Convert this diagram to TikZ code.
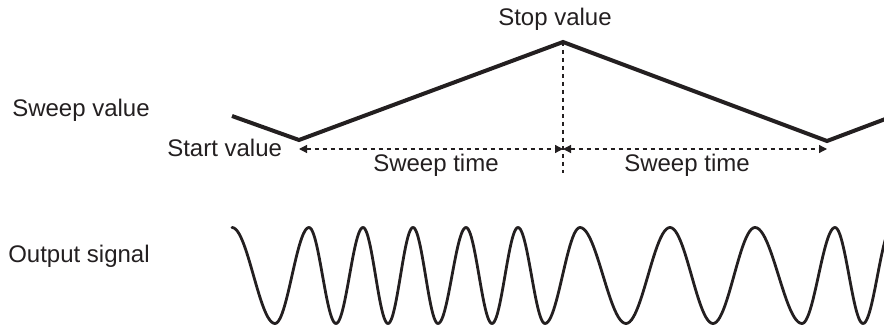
\documentclass[tikz,border=0pt]{standalone}
\usepackage{fontspec}
\setmainfont{Liberation Sans}
\usetikzlibrary{arrows.meta}
\definecolor{ink}{HTML}{231F20}

\begin{document}
\begin{tikzpicture}[x=0.75pt,y=-0.75pt,font=\fontsize{18}{21}\selectfont,
  lbl/.style={text=ink,inner sep=0pt},
  sweepline/.style={ink,line width=3pt,line join=miter},
  guide/.style={ink,line width=0.9pt,dash pattern=on 3pt off 3pt},
  span/.style={guide,{Triangle[length=6pt,width=6pt]}-{Triangle[length=6pt,width=6pt]}},
  wave/.style={ink,line width=2.1pt,line cap=round}]
  \useasboundingbox (0,0) rectangle (884,327);
  % corners of the sweep value
  \coordinate (pre) at (232,116);
  \coordinate (lo1) at (299,140);
  \coordinate (top) at (563,42);
  \coordinate (lo2) at (827,141);
  \coordinate (post) at (888,118);
  \draw[sweepline] (pre) -- (lo1) -- (top) -- (lo2) -- (post);
  % sweep time spans
  \coordinate (a1) at (299,149);
  \coordinate (mid) at (563,149);
  \coordinate (a2) at (827,149);
  \coordinate (vbot) at (563,173);
  \draw[guide] (top) -- (vbot);
  \draw[span] (a1) -- (mid);
  \draw[span] (mid) -- (a2);
  % labels
  \node[lbl,anchor=base] (stop) at (555,26) {Stop value};
  \node[lbl,anchor=base west] (sweepval) at (12,117) {Sweep value};
  \node[lbl,anchor=base west] (start) at (167,157) {Start value};
  \node[lbl,anchor=base] (time1) at (436,172) {Sweep time};
  \node[lbl,anchor=base] (time2) at (687,172) {Sweep time};
  \node[lbl,anchor=base west] (outsig) at (8,263) {Output signal};
  % output signal, one half wave per step
  \foreach \a/\b/\s in {232/275/-1,275/309/1,309/336/-1,336/363/1,363/388/-1,388/413/1,
      413/438/-1,438/466/1,466/492/-1,492/518/1,518/545/-1,545/580/1,580/626/-1,
      626/670/1,670/713/-1,713/755/1,755/802/-1,802/835/1,835/863/-1,863/892/1}
    \draw[wave] plot[domain=0:180,samples=25] ({\a+(\b-\a)*\x/180},{275.5+\s*48*cos(\x)});
\end{tikzpicture}
\end{document}
